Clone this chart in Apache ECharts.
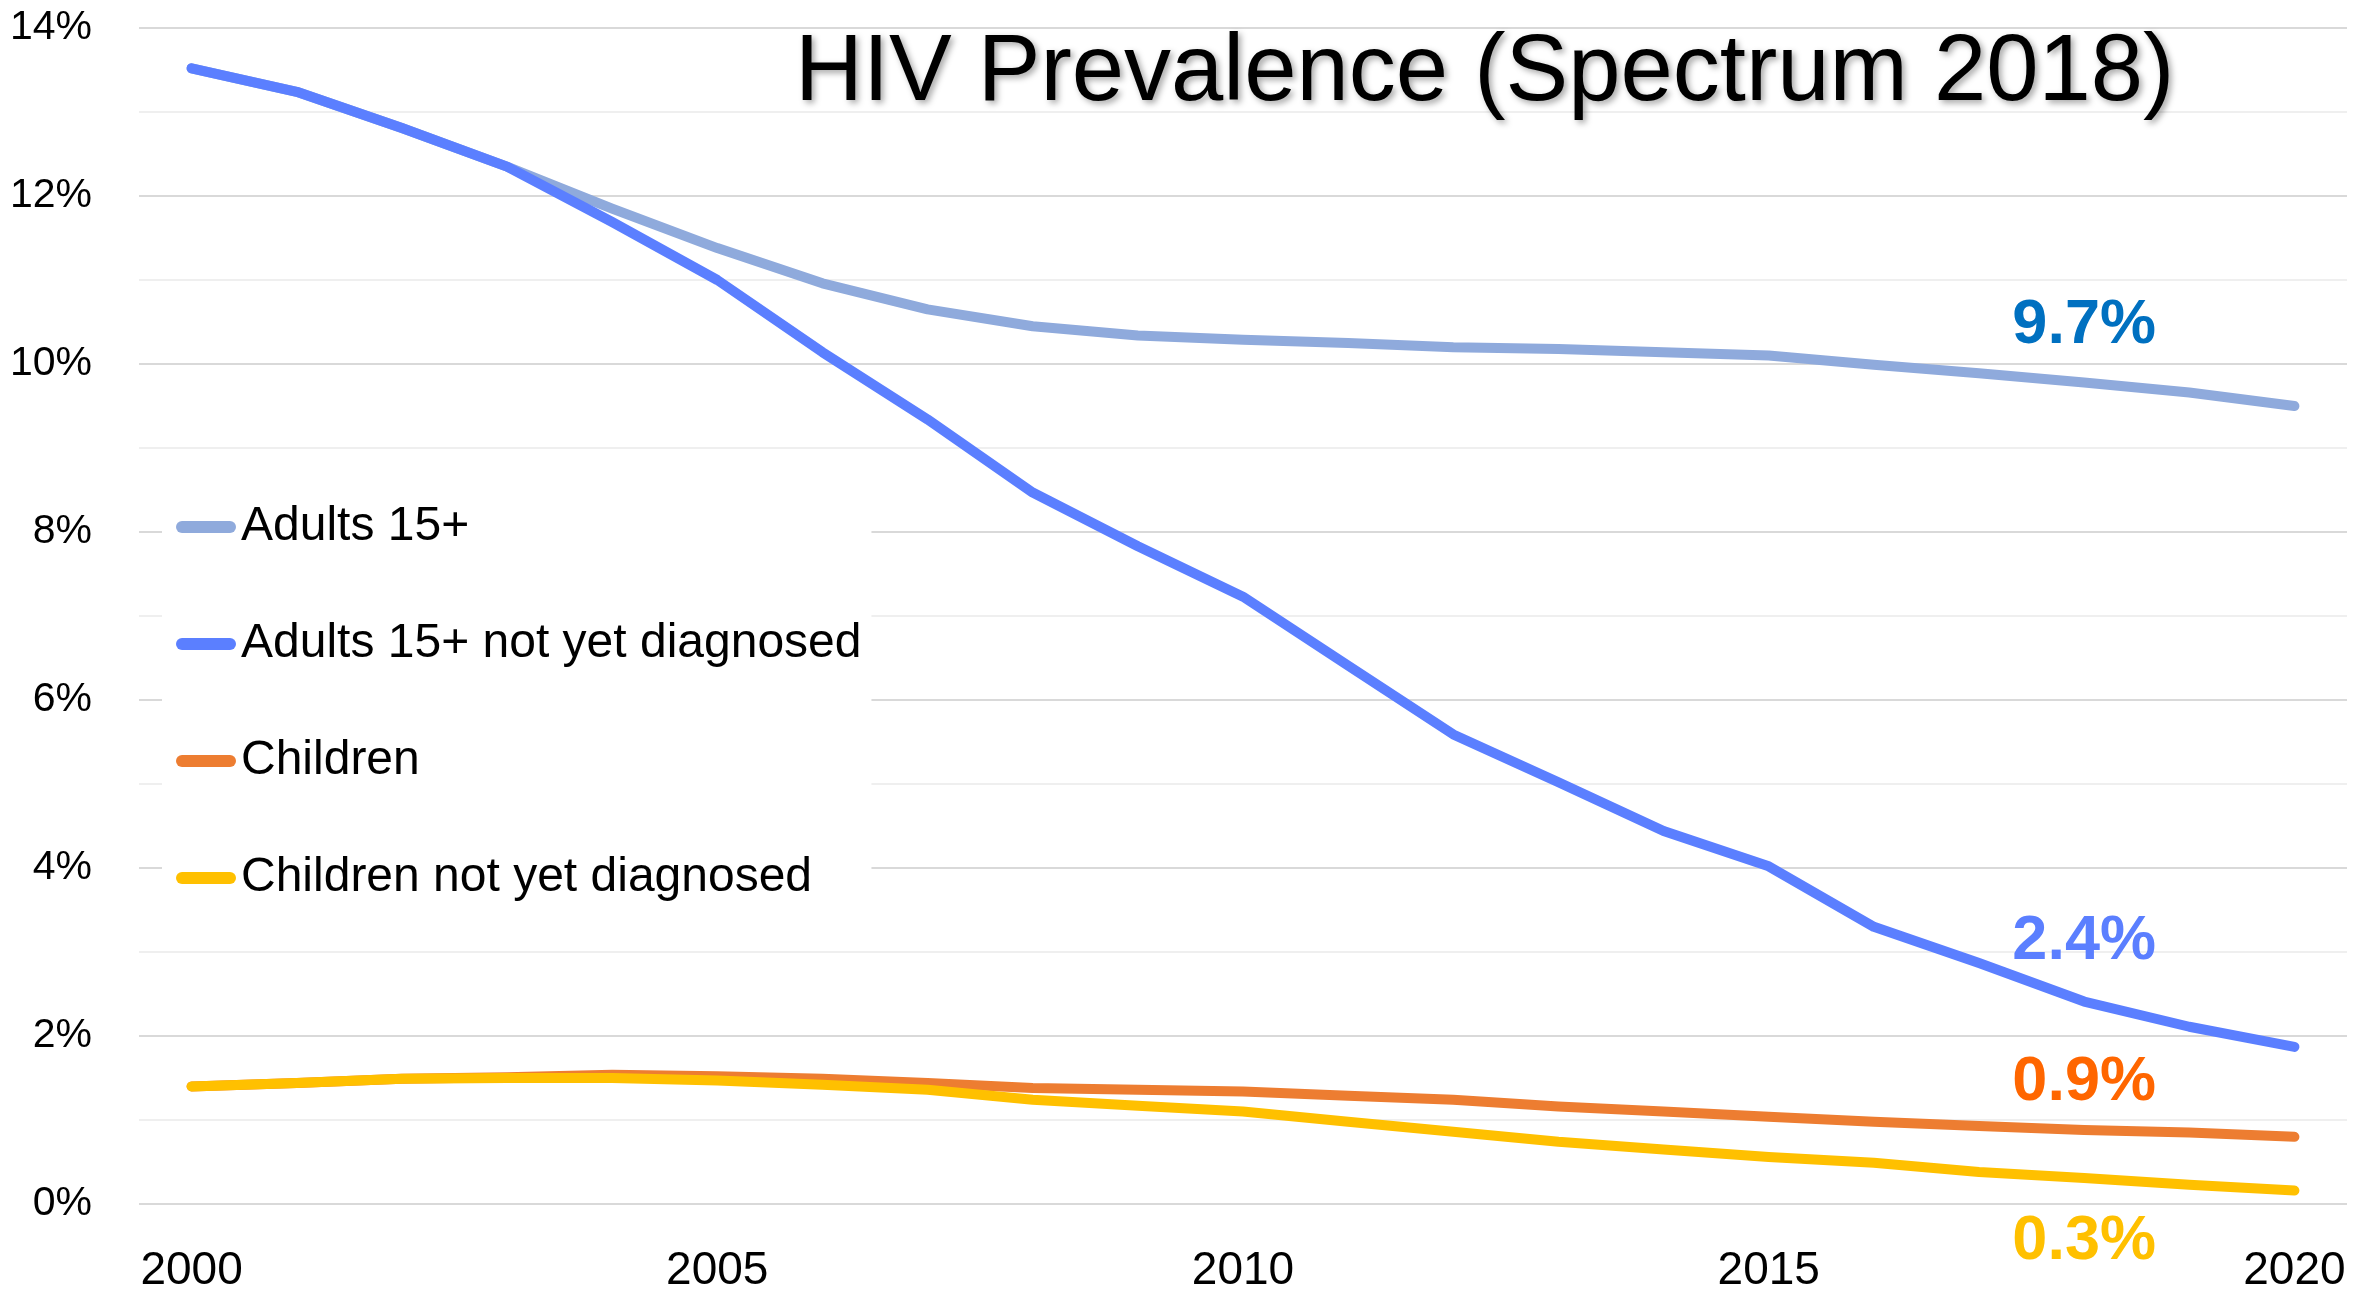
<!DOCTYPE html>
<html>
<head>
<meta charset="utf-8">
<script src="https://cdn.jsdelivr.net/npm/echarts@6/dist/echarts.min.js"></script>
<style>
html,body{margin:0;padding:0;background:#fff;}
#chart{width:2377px;height:1297px;}
</style>
</head>
<body>
<div id="chart"></div>
<script>
// ---- data ----
const years = ['2000','2001','2002','2003','2004','2005','2006','2007','2008','2009','2010',
               '2011','2012','2013','2014','2015','2016','2017','2018','2019','2020'];
const seriesNames = ['Adults 15+', 'Adults 15+ not yet diagnosed', 'Children', 'Children not yet diagnosed'];
const adults = [13.52, 13.24, 12.81, 12.35, 11.85, 11.38, 10.96, 10.65, 10.45, 10.34, 10.29,
                10.25, 10.20, 10.18, 10.14, 10.10, 9.99, 9.89, 9.78, 9.66, 9.50];
const adultsUndiagnosed = [13.52, 13.24, 12.81, 12.35, 11.69, 11.00, 10.14, 9.34, 8.47, 7.83, 7.23,
                           6.41, 5.59, 5.02, 4.44, 4.02, 3.30, 2.87, 2.41, 2.11, 1.87];
const children = [1.40, 1.44, 1.49, 1.51, 1.54, 1.52, 1.49, 1.44, 1.38, 1.36, 1.34,
                  1.29, 1.24, 1.16, 1.10, 1.04, 0.98, 0.93, 0.88, 0.85, 0.80];
const childrenUndiagnosed = [1.40, 1.44, 1.49, 1.50, 1.50, 1.47, 1.42, 1.36, 1.24, 1.17, 1.10,
                             0.98, 0.86, 0.74, 0.65, 0.56, 0.49, 0.38, 0.31, 0.23, 0.16];
// annotation texts and their anchor (category, value)
const noteTexts = ['9.7%', '2.4%', '0.9%', '0.3%'];
const noteYear = '2018';
const noteValues = [10.46, 3.12, 1.45, 0];
const yTicks = {min: 0, max: 14, interval: 2};

// ---- styles ----
const lineColors = ['#8FAADC', '#5B7FFF', '#ED7D31', '#FFC000'];
const noteColors = ['#0070C0', '#5B7FFF', '#FF6600', '#FFC000'];
const noteOffsets = [[0, 0], [0, 0], [0, 0], [0, 38]];
const FONT = '"Liberation Sans", Arial, sans-serif';
const allData = [adults, adultsUndiagnosed, children, childrenUndiagnosed];
const legendIcon = 'path://M6,0 H54 A6,6 0 0 1 54,12 H6 A6,6 0 0 1 6,0 Z';

const chart = echarts.init(document.getElementById('chart'), null, {renderer: 'canvas'});
const option = {
  animation: false,
  backgroundColor: '#fff',
  title: {
    text: 'HIV Prevalence (Spectrum 2018)',
    left: 790, top: 22,
    textStyle: {
      fontFamily: FONT, fontSize: 94, fontWeight: 'normal', color: '#000',
      textShadowColor: 'rgba(0,0,0,0.35)', textShadowBlur: 6,
      textShadowOffsetX: 3, textShadowOffsetY: 3
    }
  },
  grid: {left: 139, right: 30, top: 28, bottom: 93, containLabel: false},
  legend: {
    orient: 'vertical',
    left: 162, top: 460,
    padding: [37, 10, 33, 14],
    backgroundColor: '#fff',
    itemWidth: 60, itemHeight: 12, itemGap: 57,
    data: seriesNames.map(n => ({name: n, icon: legendIcon})),
    textStyle: {fontFamily: FONT, fontSize: 48, lineHeight: 60, color: '#000'}
  },
  xAxis: {
    type: 'category',
    data: years,
    boundaryGap: true,
    axisLine: {show: false},
    axisTick: {show: false},
    axisLabel: {interval: 4, margin: 44, fontFamily: FONT, fontSize: 46, color: '#000'},
    splitLine: {show: false}
  },
  yAxis: {
    type: 'value',
    min: yTicks.min, max: yTicks.max, interval: yTicks.interval,
    axisLine: {show: false},
    axisTick: {show: false},
    axisLabel: {formatter: '{value}%', margin: 47, fontFamily: FONT, fontSize: 41, color: '#000'},
    splitLine: {show: true, lineStyle: {color: '#D9D9D9', width: 2}},
    minorTick: {show: false, splitNumber: 2},
    minorSplitLine: {show: true, lineStyle: {color: '#EFEFEF', width: 2}}
  },
  series: seriesNames.map((name, i) => ({
    name: name,
    type: 'line',
    data: allData[i],
    symbol: 'none',
    smooth: false,
    clip: false,
    color: lineColors[i],
    lineStyle: {width: 10, color: lineColors[i], cap: 'round', join: 'round'},
    z: 2 + i,
    markPoint: {
      symbol: 'rect',
      symbolSize: 1,
      itemStyle: {color: 'rgba(0,0,0,0)'},
      silent: true,
      data: [{
        coord: [noteYear, noteValues[i]],
        label: {
          show: true, position: 'inside', formatter: noteTexts[i], offset: noteOffsets[i],
          fontFamily: FONT, fontSize: 63, fontWeight: 'bold', color: noteColors[i]
        }
      }]
    }
  }))
};
chart.setOption(option);
</script>
</body>
</html>
